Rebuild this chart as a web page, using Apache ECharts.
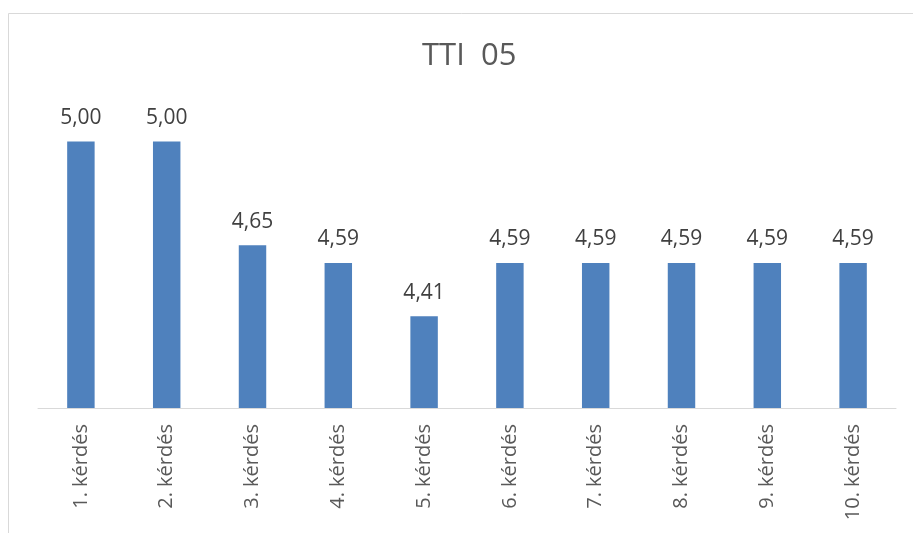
<!DOCTYPE html>
<html lang="hu">
<head>
    <meta charset="UTF-8">
    <title>TTI 05</title>
    <script src="https://cdn.jsdelivr.net/npm/echarts@6/dist/echarts.min.js"></script>
    <style>
        html, body { margin: 0; padding: 0; background: #fff; }
        #chart { width: 913px; height: 533px; }
    </style>
</head>
<body>
<div id="chart"></div>
<script>
    var categories = ['1. kérdés', '2. kérdés', '3. kérdés', '4. kérdés', '5. kérdés',
        '6. kérdés', '7. kérdés', '8. kérdés', '9. kérdés', '10. kérdés'];
    var values = [5.00, 5.00, 4.65, 4.59, 4.41, 4.59, 4.59, 4.59, 4.59, 4.59];

    var myChart = echarts.init(document.getElementById('chart'));
    var option = {
        backgroundColor: '#fff',
        textStyle: { fontFamily: '"Open Sans", "Liberation Sans", sans-serif' },
        // chart frame, runs off the page on right and bottom like the screenshot
        graphic: [{
            type: 'rect',
            shape: { x: 8.5, y: 13.5, width: 2000, height: 2000 },
            style: { fill: 'none', stroke: '#d9d9d9', lineWidth: 1 },
            silent: true
        }],
        title: {
            text: 'TTI  05',
            left: 417,
            top: 36,
            textStyle: { fontSize: 31, fontWeight: 'normal', color: '#595959' }
        },
        grid: { left: 38, right: 17, top: 112, bottom: 125 },
        xAxis: {
            type: 'category',
            data: categories,
            axisLine: { lineStyle: { color: '#d9d9d9', width: 1 } },
            axisTick: { show: false },
            axisLabel: {
                rotate: 90,
                interval: 0,
                margin: 16,
                fontSize: 20,
                color: '#595959'
            }
        },
        yAxis: {
            type: 'value',
            min: 4.1,
            max: 5.1,
            show: false,
            splitLine: { show: false }
        },
        series: [{
            type: 'bar',
            data: values,
            barWidth: '32%',
            itemStyle: { color: '#4f81bd' },
            label: {
                show: true,
                position: 'top',
                distance: 13,
                fontSize: 21,
                color: '#404040',
                formatter: function (p) { return p.value.toFixed(2).replace('.', ','); }
            }
        }]
    };
    myChart.setOption(option);
</script>
</body>
</html>
